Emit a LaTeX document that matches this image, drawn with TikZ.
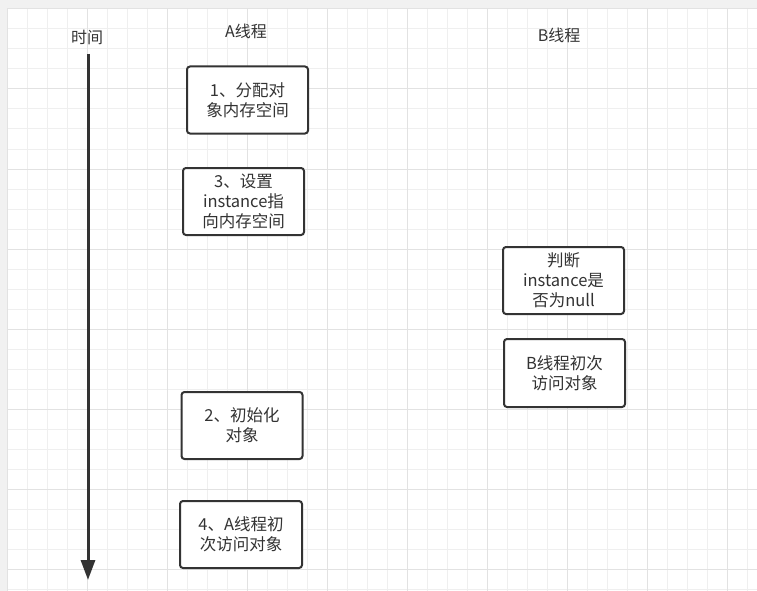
\documentclass[tikz,border=0pt]{standalone}
\usepackage{fontspec}
\setmainfont{Noto Sans CJK SC}
\usetikzlibrary{arrows.meta}
\definecolor{bg}{HTML}{F1F1F1}
\definecolor{minor}{HTML}{EFEFEF}
\definecolor{major}{HTML}{E2E2E2}
\definecolor{ink}{HTML}{333333}
\tikzset{
  stepbox/.style={draw=ink, line width=2pt, rounded corners=3pt, fill=white,
    text=ink, align=center, font=\fontsize{16.5}{20}\selectfont, inner sep=0pt},
  lbl/.style={text=ink, font=\fontsize{16}{18}\selectfont, inner sep=0pt}
}
\begin{document}
\begin{tikzpicture}[x=1pt,y=-1pt]
\useasboundingbox (0,0) rectangle (757,591);
\fill[bg] (0,0) rectangle (757,591);
\fill[white] (7,9) rectangle (757,591);
\foreach \x in {7,27,...,757} \draw[minor, line width=1pt] (\x,9) -- (\x,591);
\foreach \y in {9,29,...,591} \draw[minor, line width=1pt] (7,\y) -- (757,\y);
\foreach \x in {7,87,...,757} \draw[major, line width=1pt] (\x,9) -- (\x,591);
\foreach \y in {9,89,...,591} \draw[major, line width=1pt] (7,\y) -- (757,\y);

\node[lbl] (time) at (87,37) {时间};
\node[lbl] (ta) at (246,31) {A线程};
\node[lbl] (tb) at (559,35) {B线程};

\coordinate (top) at (88,54);
\coordinate (bot) at (88,580);
\draw[ink, line width=3pt, -{Triangle[length=20pt,width=14pt]}] (top) -- (bot);

\node[stepbox, minimum width=121pt, minimum height=67pt] (s1) at (247.5,100) {1、分配对\\象内存空间};
\node[stepbox, minimum width=121pt, minimum height=67pt] (s3) at (243.5,201.5) {3、设置\\instance指\\向内存空间};
\node[stepbox, minimum width=121pt, minimum height=67pt] (s2) at (242,425.5) {2、初始化\\对象};
\node[stepbox, minimum width=122pt, minimum height=67pt] (s4) at (241,534.5) {4、A线程初\\次访问对象};
\node[stepbox, minimum width=121pt, minimum height=67pt] (j) at (563.5,280.5) {判断\\instance是\\否为null};
\node[stepbox, minimum width=121pt, minimum height=68pt] (b) at (564.5,373) {B线程初次\\访问对象};
\end{tikzpicture}
\end{document}
